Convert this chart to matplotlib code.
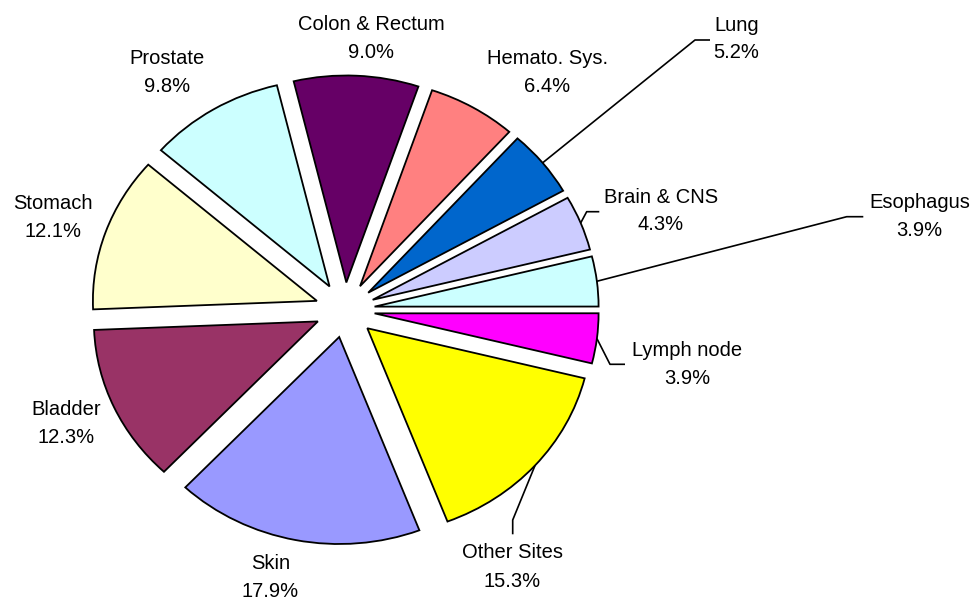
import matplotlib
matplotlib.use("Agg")
import matplotlib.pyplot as plt
import numpy as np

# ---- data (clockwise from the top) ----
categories = ["Colon & Rectum", "Hemato. Sys.", "Lung", "Brain & CNS", "Esophagus",
              "Lymph node", "Other Sites", "Skin", "Bladder", "Stomach", "Prostate"]
shares = [9.0, 6.4, 5.2, 4.3, 3.9, 3.9, 15.3, 17.9, 12.3, 12.1, 9.8]
colors = ["#660066", "#FF8080", "#0066CC", "#CCCCFF", "#CCFFFF", "#FF00FF",
          "#FFFF00", "#9999FF", "#993366", "#FFFFCC", "#CCFFFF"]

# ---- layout (pixels, origin top-left) ----
W, H = 976, 600
CX, CY = 345, 310       # pie centre
SX, SY = 224, 207       # pixels per radius unit (chart is slightly stretched)

# label anchor: (centre x, baseline line 1, baseline line 2)
label_pos = {
    "Colon & Rectum": (371, 30, 58.3),
    "Hemato. Sys.": (547.3, 64.3, 92.3),
    "Lung": (736.5, 31.3, 58.3),
    "Brain & CNS": (661, 202.7, 230),
    "Esophagus": (919.5, 207.7, 236),
    "Lymph node": (687.5, 356, 384),
    "Other Sites": (512.5, 558.3, 586.7),
    "Skin": (270.5, 569.3, 597.3),
    "Bladder": (66.2, 415, 443.3),
    "Stomach": (53.3, 209.3, 237.3),
    "Prostate": (167, 64.3, 91.7),
}
# leader lines: elbow point, end point
leaders = {
    "Lung": [(695, 40), (710, 40)],
    "Brain & CNS": [(586.7, 211.7), (599.3, 211.7)],
    "Esophagus": [(846.7, 216.7), (863.3, 216.7)],
    "Lymph node": [(610, 364.3), (625, 364.3)],
    "Other Sites": [(512.7, 520), (512.7, 534.3)],
}


def to_data(px, py):
    return (px - CX) / SX, (CY - py) / SY


fig = plt.figure(figsize=(W / 100, H / 100), dpi=100)
ax = fig.add_axes([0, 0, 1, 1])
wedges, _ = ax.pie(shares, colors=colors, explode=[0.133] * len(shares),
                   startangle=103.6, counterclock=False,
                   wedgeprops=dict(edgecolor="black", linewidth=1.3))
ax.set_aspect("auto")
ax.set_xlim(-CX / SX, (W - CX) / SX)
ax.set_ylim(-(H - CY) / SY, CY / SY)
ax.axis("off")

font = dict(family="Liberation Sans", size=14.5, color="black")
for name, val, w in zip(categories, shares, wedges):
    x, b1, b2 = label_pos[name]
    ax.text(*to_data(x, b1), name, ha="center", va="baseline", **font)
    ax.text(*to_data(x, b2), f"{val:.1f}%", ha="center", va="baseline", **font)
    if name in leaders:
        th = np.deg2rad((w.theta1 + w.theta2) / 2)
        sx0 = w.center[0] + w.r * np.cos(th)
        sy0 = w.center[1] + w.r * np.sin(th)
        pts = [(sx0, sy0)] + [to_data(*p) for p in leaders[name]]
        xs, ys = zip(*pts)
        ax.plot(xs, ys, color="black", linewidth=1.2, solid_capstyle="butt")

fig.savefig("out.png", dpi=100)
